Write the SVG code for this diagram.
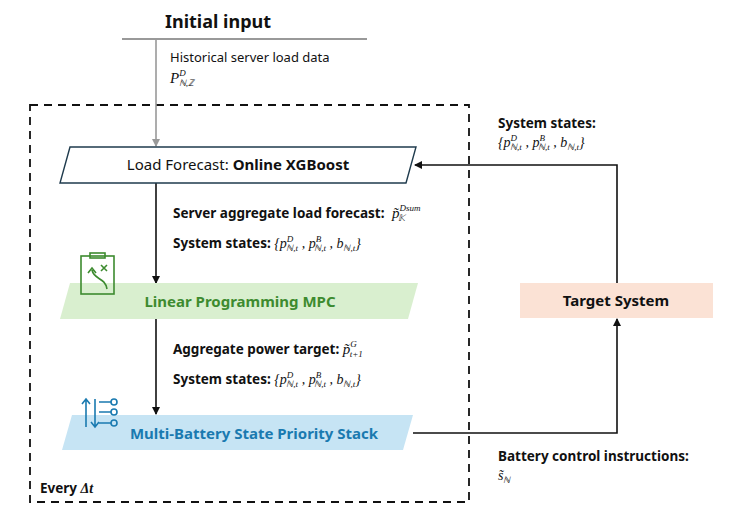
<svg xmlns="http://www.w3.org/2000/svg" width="732" height="526" viewBox="0 0 732 526">
<style>
text{font-family:"Noto Sans","Liberation Sans",sans-serif;fill:#111}
.b{font-weight:bold}
.lbl{font-size:13.5px;font-weight:bold}
.m{font-family:"Liberation Serif",serif;font-style:italic;font-weight:normal}
.s{font-size:9px}
.c{stroke:#111;stroke-width:1.6;fill:none}
</style>
<defs>
<marker id="ah" markerWidth="8" markerHeight="8" refX="7" refY="4" orient="auto" markerUnits="userSpaceOnUse"><path d="M0,0 L8,4 L0,8 z" fill="#111"/></marker>
<marker id="ag" markerWidth="8" markerHeight="8" refX="7" refY="4" orient="auto" markerUnits="userSpaceOnUse"><path d="M0,0 L8,4 L0,8 z" fill="#999"/></marker>
</defs>
<rect x="30" y="105" width="439" height="397" fill="none" stroke="#111" stroke-width="1.8" stroke-dasharray="8,6"/>
<g id="initial-input">
<text x="218" y="28" text-anchor="middle" class="b" font-size="18">Initial input</text>
<line x1="122" y1="39" x2="367" y2="39" stroke="#999" stroke-width="2"/>
<text x="170" y="62" font-size="13">Historical server load data</text>
<text x="170" y="83" font-size="15" class="m">P<tspan class="s" dy="-7">D</tspan><tspan class="s" dy="10" dx="-7">ℕ,ℤ</tspan></text>
</g>
<g id="connectors">
<line x1="156" y1="40" x2="156" y2="146" stroke="#999" stroke-width="1.6" marker-end="url(#ag)"/>
<line x1="156" y1="183" x2="156" y2="283" class="c" marker-end="url(#ah)"/>
<line x1="156" y1="319" x2="156" y2="414" class="c" marker-end="url(#ah)"/>
<polyline points="413,433 617,433 617,319" class="c" marker-end="url(#ah)"/>
<polyline points="617,283 617,165 415,165" class="c" marker-end="url(#ah)"/>
</g>
<g id="load-forecast">
<polygon points="70,147 416,147 406,183 60,183" fill="#fff" stroke="#1f3b4d" stroke-width="1.4"/>
<text x="238" y="170" text-anchor="middle" font-size="15">Load Forecast: <tspan class="b">Online XGBoost</tspan></text>
</g>
<g id="lbl1">
<text x="173" y="218" class="lbl">Server aggregate load forecast:</text>
<text x="392" y="218" class="m" font-size="15">p̃<tspan class="s" dy="-7">Dsum</tspan></text>
<text x="398" y="221" class="m s">𝕂</text>
<text x="173" y="248" class="lbl">System states: <tspan class="m" font-size="14">{p<tspan class="s" dy="-6">D</tspan><tspan class="s" dy="9" dx="-7">ℕ,t</tspan><tspan dy="-3"> , p</tspan><tspan class="s" dy="-6">B</tspan><tspan class="s" dy="9" dx="-7">ℕ,t</tspan><tspan dy="-3"> , b</tspan><tspan class="s" dy="3">ℕ,t</tspan><tspan dy="-3">}</tspan></tspan></text>
</g>
<g id="lp-mpc">
<polygon points="70,283 418,283 408,319 60,319" fill="#d9efcf"/>
<text x="240" y="307" text-anchor="middle" class="b" font-size="15" style="fill:#3d8b2f">Linear Programming MPC</text>
<g fill="none" stroke="#3d8b2f" stroke-width="1.6">
<rect x="81" y="256" width="33" height="38"/>
<rect x="90" y="253" width="15" height="5"/>
<path d="M107,289 C105,277 94,280 92,270 M88,273 L92,268 L96,273 M101,265 l6,6 M107,265 l-6,6"/>
</g>
</g>
<g id="lbl2">
<text x="173" y="354" class="lbl">Aggregate power target: <tspan class="m" font-size="15">p̃<tspan class="s" dy="-7">G</tspan><tspan class="s" dy="10" dx="-7">t+1</tspan></tspan></text>
<text x="173" y="384" class="lbl">System states: <tspan class="m" font-size="14">{p<tspan class="s" dy="-6">D</tspan><tspan class="s" dy="9" dx="-7">ℕ,t</tspan><tspan dy="-3"> , p</tspan><tspan class="s" dy="-6">B</tspan><tspan class="s" dy="9" dx="-7">ℕ,t</tspan><tspan dy="-3"> , b</tspan><tspan class="s" dy="3">ℕ,t</tspan><tspan dy="-3">}</tspan></tspan></text>
</g>
<g id="mbsps">
<polygon points="72,415 413,415 403,450 62,450" fill="#c6e4f4"/>
<text x="254" y="439" text-anchor="middle" class="b" font-size="15" style="fill:#1a7ab0">Multi-Battery State Priority Stack</text>
<g fill="none" stroke="#1a7ab0" stroke-width="1.6">
<path d="M86,427 V400 M82,404 L86,399 L90,404 M95,399 V426 M91,422 L95,427 L99,422 M99,402 H111 M99,412 H111 M99,423 H111"/>
<circle cx="114" cy="402" r="3"/><circle cx="114" cy="412" r="3"/><circle cx="114" cy="423" r="3"/>
</g>
</g>
<g id="target-system">
<rect x="520" y="283" width="193" height="35" fill="#fbe2d5"/>
<text x="616" y="306" text-anchor="middle" class="b" font-size="15">Target System</text>
</g>
<g id="lbl3">
<text x="498" y="128" class="lbl">System states:</text>
<text x="498" y="147" class="m" font-size="14">{p<tspan class="s" dy="-6">D</tspan><tspan class="s" dy="9" dx="-7">ℕ,t</tspan><tspan dy="-3"> , p</tspan><tspan class="s" dy="-6">B</tspan><tspan class="s" dy="9" dx="-7">ℕ,t</tspan><tspan dy="-3"> , b</tspan><tspan class="s" dy="3">ℕ,t</tspan><tspan dy="-3">}</tspan></text>
</g>
<g id="lbl4">
<text x="498" y="461" class="lbl">Battery control instructions:</text>
<text x="498" y="480" class="m" font-size="14">s̃<tspan class="s" dy="3">ℕ</tspan></text>
</g>
<text x="40" y="493" class="lbl">Every <tspan class="m" style="font-weight:bold;font-size:14px">Δt</tspan></text>
</svg>
